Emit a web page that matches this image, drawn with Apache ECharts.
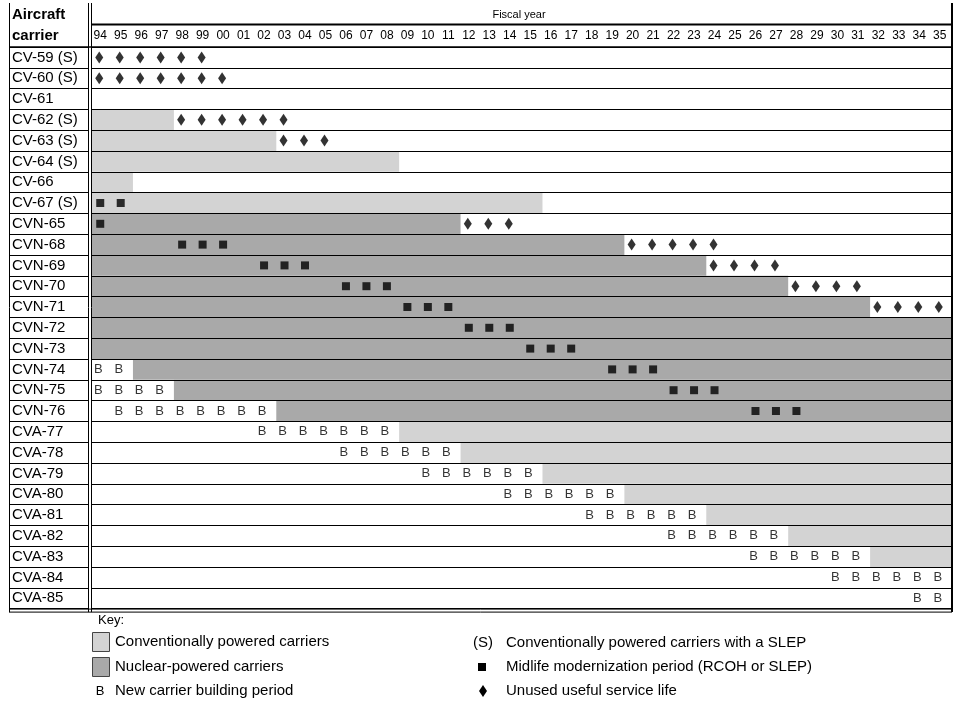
<!DOCTYPE html>
<html>
<head>
<meta charset="utf-8">
<script src="https://cdn.jsdelivr.net/npm/echarts@6/dist/echarts.min.js"></script>
<style>html,body{margin:0;padding:0;background:#fff}#c{width:959px;height:704px}</style>
</head>
<body>
<div id="c"></div>
<script>
// ---------------- data ----------------
const years = ['94','95','96','97','98','99','00','01','02','03','04','05','06','07','08','09','10','11','12','13','14','15','16','17','18','19','20','21','22','23','24','25','26','27','28','29','30','31','32','33','34','35'];

const carriers = ['CV-59 (S)','CV-60 (S)','CV-61','CV-62 (S)','CV-63 (S)','CV-64 (S)','CV-66','CV-67 (S)','CVN-65','CVN-68','CVN-69','CVN-70','CVN-71','CVN-72','CVN-73','CVN-74','CVN-75','CVN-76','CVA-77','CVA-78','CVA-79','CVA-80','CVA-81','CVA-82','CVA-83','CVA-84','CVA-85'];

// [carrier, first fiscal year, last fiscal year]
const conventionalSpans = [
  ['CV-62 (S)','94','97'],
  ['CV-63 (S)','94','02'],
  ['CV-64 (S)','94','08'],
  ['CV-66','94','95'],
  ['CV-67 (S)','94','15'],
  ['CVA-77','09','35'],
  ['CVA-78','12','35'],
  ['CVA-79','16','35'],
  ['CVA-80','20','35'],
  ['CVA-81','24','35'],
  ['CVA-82','28','35'],
  ['CVA-83','32','35']
];

const nuclearSpans = [
  ['CVN-65','94','11'],
  ['CVN-68','94','19'],
  ['CVN-69','94','23'],
  ['CVN-70','94','27'],
  ['CVN-71','94','31'],
  ['CVN-72','94','35'],
  ['CVN-73','94','35'],
  ['CVN-74','96','35'],
  ['CVN-75','98','35'],
  ['CVN-76','03','35']
];

const midlifeYears = [
  ['CV-67 (S)',['94','95']],
  ['CVN-65',['94']],
  ['CVN-68',['98','99','00']],
  ['CVN-69',['02','03','04']],
  ['CVN-70',['06','07','08']],
  ['CVN-71',['09','10','11']],
  ['CVN-72',['12','13','14']],
  ['CVN-73',['15','16','17']],
  ['CVN-74',['19','20','21']],
  ['CVN-75',['22','23','24']],
  ['CVN-76',['26','27','28']]
];

const unusedYears = [
  ['CV-59 (S)',['94','95','96','97','98','99']],
  ['CV-60 (S)',['94','95','96','97','98','99','00']],
  ['CV-62 (S)',['98','99','00','01','02','03']],
  ['CV-63 (S)',['03','04','05']],
  ['CVN-65',['12','13','14']],
  ['CVN-68',['20','21','22','23','24']],
  ['CVN-69',['24','25','26','27']],
  ['CVN-70',['28','29','30','31']],
  ['CVN-71',['32','33','34','35']]
];

const buildingYears = [
  ['CVN-74',['94','95']],
  ['CVN-75',['94','95','96','97']],
  ['CVN-76',['95','96','97','98','99','00','01','02']],
  ['CVA-77',['02','03','04','05','06','07','08']],
  ['CVA-78',['06','07','08','09','10','11']],
  ['CVA-79',['10','11','12','13','14','15']],
  ['CVA-80',['14','15','16','17','18','19']],
  ['CVA-81',['18','19','20','21','22','23']],
  ['CVA-82',['22','23','24','25','26','27']],
  ['CVA-83',['26','27','28','29','30','31']],
  ['CVA-84',['30','31','32','33','34','35']],
  ['CVA-85',['34','35']]
];

// ---------------- build ----------------
const FONT = '"Liberation Sans", Arial, Helvetica, sans-serif';
const LIGHT = '#d3d3d3', DARK = '#a9a9a9';
const TOP = 47, ROW_H = 20.8, GRID_H = ROW_H * carriers.length;
const BOTTOM = TOP + GRID_H;
const L = 9, MID1 = 88.5, MID2 = 92, R = 952;

function spans(list){
  return list.map(s => [years.indexOf(s[1]), years.indexOf(s[2]), carriers.indexOf(s[0])]);
}
function points(list){
  const out = [];
  list.forEach(([c, ys]) => ys.forEach(y => out.push([years.indexOf(y), carriers.indexOf(c)])));
  return out;
}
function spanRender(color){
  return function(params, api){
    const s = api.value(0), e = api.value(1), r = api.value(2);
    const p0 = api.coord([s, r]);
    const p1 = api.coord([e, r]);
    const sz = api.size([1, 1]);
    const x0 = p0[0] - sz[0] / 2, x1 = p1[0] + sz[0] / 2;
    const y0 = p0[1] - sz[1] / 2;
    return {type:'rect', shape:{x:x0, y:y0, width:x1 - x0, height:sz[1]}, style:{fill:color}};
  };
}

const txt = (x, y, text, size, extra) => Object.assign({
  type:'text', x:x, y:y, z:50,
  style:Object.assign({text:text, font:size + 'px ' + FONT, fill:'#000', verticalAlign:'middle', align:'left'}, extra || {})
});
const line = (x1, y1, x2, y2, w) => ({type:'line', z:60, shape:{x1:x1, y1:y1, x2:x2, y2:y2}, style:{stroke:'#000', lineWidth:w || 1}});

const graphics = [
  // frame
  line(L + 0.5, 3, L + 0.5, BOTTOM + 3.5),
  line(MID1, 3, MID1, BOTTOM + 3.5),
  line(MID2 - 0.5, 3, MID2 - 0.5, BOTTOM + 3.5),
  line(R, 3, R, BOTTOM + 3.5, 2),
  line(MID2, 24.5, R, 24.5, 2),
  line(L, TOP, R, TOP, 1.5),
  line(L, BOTTOM + 0.5, R, BOTTOM + 0.5),
  line(L, BOTTOM + 3.5, R, BOTTOM + 3.5),
  // header
  txt(12, 15, 'Aircraft', 15, {font:'bold 15px ' + FONT}),
  txt(12, 36, 'carrier', 15, {font:'bold 15px ' + FONT}),
  txt(519, 15, 'Fiscal year', 11, {align:'center'}),
  // key
  txt(98, 620, 'Key:', 13),
  {type:'rect', z:50, shape:{x:92.5, y:632.5, width:17, height:19}, style:{fill:LIGHT, stroke:'#444', lineWidth:1}},
  txt(115, 642, 'Conventionally powered carriers', 15),
  {type:'rect', z:50, shape:{x:92.5, y:657.5, width:17, height:19}, style:{fill:DARK, stroke:'#444', lineWidth:1}},
  txt(115, 667, 'Nuclear-powered carriers', 15),
  txt(100, 691, 'B', 13, {align:'center'}),
  txt(115, 691, 'New carrier building period', 15),
  txt(473, 643, '(S)', 15),
  txt(506, 643, 'Conventionally powered carriers with a SLEP', 15),
  {type:'rect', z:50, shape:{x:478, y:663, width:8, height:8}, style:{fill:'#000'}},
  txt(506, 667, 'Midlife modernization period (RCOH or SLEP)', 15),
  {type:'polygon', z:50, shape:{points:[[483,685],[487,691],[483,697],[479,691]]}, style:{fill:'#000'}},
  txt(506, 691, 'Unused useful service life', 15)
];

const splitBlack = {show:true, interval:0, lineStyle:{color:'#000', width:1}};

const option = {
  animation:false,
  backgroundColor:'#fff',
  textStyle:{fontFamily:FONT},
  grid:[
    {left:L, top:TOP, width:MID1 - L, height:GRID_H},
    {left:MID2, top:TOP, width:R - MID2, height:GRID_H}
  ],
  xAxis:[
    {gridIndex:0, type:'value', min:0, max:1, show:false},
    {gridIndex:1, type:'category', data:years, position:'top', boundaryGap:true,
     axisLine:{show:false}, axisTick:{show:false}, splitLine:{show:false},
     axisLabel:{interval:0, margin:5, fontSize:12, color:'#000', fontFamily:FONT, padding:[0,4,0,0]}}
  ],
  yAxis:[
    {gridIndex:0, type:'category', data:carriers, inverse:true, z:10,
     axisLine:{show:false}, axisTick:{show:false},
     axisLabel:{inside:true, margin:3, interval:0, fontSize:15, color:'#000', fontFamily:FONT},
     splitLine:splitBlack},
    {gridIndex:1, type:'category', data:carriers, inverse:true, z:10,
     axisLine:{show:false}, axisTick:{show:false}, axisLabel:{show:false},
     splitLine:splitBlack}
  ],
  series:[
    {name:'Conventionally powered carriers', type:'custom', xAxisIndex:1, yAxisIndex:1,
     renderItem:spanRender(LIGHT), encode:{x:[0,1], y:2}, data:spans(conventionalSpans), z:2},
    {name:'Nuclear-powered carriers', type:'custom', xAxisIndex:1, yAxisIndex:1,
     renderItem:spanRender(DARK), encode:{x:[0,1], y:2}, data:spans(nuclearSpans), z:2},
    {name:'Midlife modernization period (RCOH or SLEP)', type:'scatter', xAxisIndex:1, yAxisIndex:1,
     symbol:'rect', symbolSize:[8,8], symbolOffset:[-2,0], itemStyle:{color:'#000'},
     data:points(midlifeYears), z:5},
    {name:'Unused useful service life', type:'scatter', xAxisIndex:1, yAxisIndex:1,
     symbol:'diamond', symbolSize:[8,12], symbolOffset:[-3,0], itemStyle:{color:'#000'},
     data:points(unusedYears), z:5},
    {name:'New carrier building period', type:'scatter', xAxisIndex:1, yAxisIndex:1,
     symbol:'rect', symbolSize:1, itemStyle:{color:'rgba(0,0,0,0)'},
     label:{show:true, position:'inside', formatter:'B', fontSize:13, color:'#000', fontFamily:FONT, offset:[-4,0]},
     data:points(buildingYears), z:5}
  ],
  graphic:graphics
};

const chart = echarts.init(document.getElementById('c'), null, {renderer:'canvas'});
chart.setOption(option);
</script>
</body>
</html>
